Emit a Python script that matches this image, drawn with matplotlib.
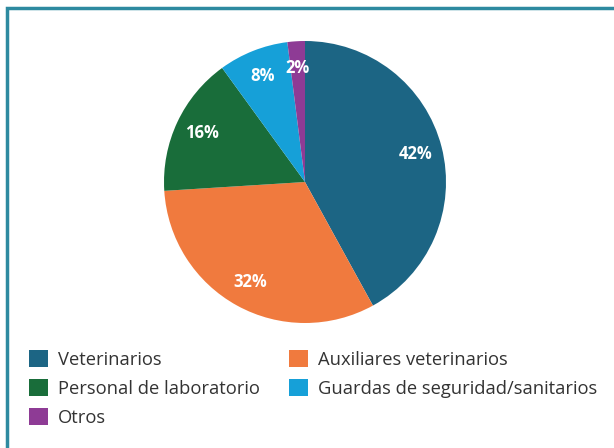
import matplotlib.pyplot as plt
from matplotlib.patches import Rectangle

plt.rcParams['font.family'] = ['Open Sans', 'DejaVu Sans']

# datos
categorias = ['Veterinarios', 'Auxiliares veterinarios', 'Personal de laboratorio',
              'Guardas de seguridad/sanitarios', 'Otros']
valores = [42, 32, 16, 8, 2]
colores = ['#1c6584', '#f07a3e', '#196d3a', '#16a0d8', '#8e3b95']

fig = plt.figure(figsize=(6.14, 4.48), dpi=100)

# marco
fig.patches.append(Rectangle((7 / 614, -0.1), 1.2, (448 - 8.5 + 44.8) / 448,
                             transform=fig.transFigure, fill=False,
                             edgecolor='#2e8aa0', linewidth=2.5))

ax = fig.add_axes([(305 - 141) / 614, (448 - 182 - 141) / 448, 282 / 614, 282 / 448])
wedges, textos, pcts = ax.pie(valores, colors=colores, startangle=90, counterclock=False,
                              autopct='%d%%', pctdistance=0.81, radius=1,
                              wedgeprops={'linewidth': 0})
for t in pcts:
    t.set_color('white')
    t.set_fontweight('bold')
    t.set_fontsize(12)
ax.set_xlim(-1, 1)
ax.set_ylim(-1, 1)
ax.set_aspect('equal')

# leyenda en dos columnas (orden por filas)
estilo = dict(loc='upper left', frameon=False, fontsize=13.2, handlelength=1.05,
              handleheight=1.05, handletextpad=0.55, labelspacing=0.56,
              borderpad=0, borderaxespad=0, labelcolor='#333333')
col1 = [0, 2, 4]
col2 = [1, 3]
fig.legend([wedges[i] for i in col1], [categorias[i] for i in col1],
           bbox_to_anchor=(29 / 614, 1 - 350 / 448), **estilo)
fig.legend([wedges[i] for i in col2], [categorias[i] for i in col2],
           bbox_to_anchor=(289 / 614, 1 - 350 / 448), **estilo)

fig.savefig('out.png', dpi=100)
